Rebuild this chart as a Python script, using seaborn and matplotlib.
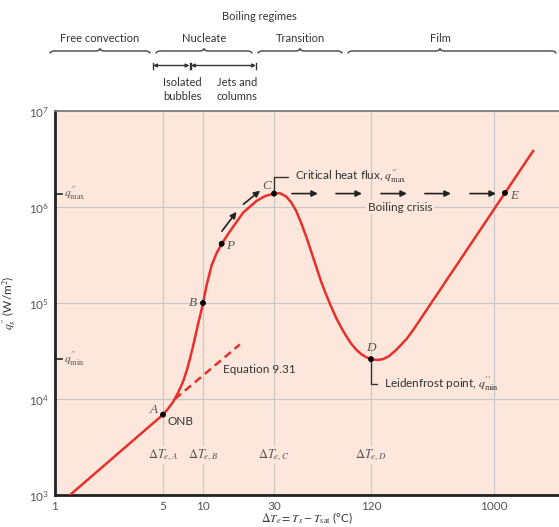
import numpy as np
import pandas as pd
import seaborn as sns
import matplotlib.pyplot as plt
from matplotlib.path import Path
from matplotlib.patches import PathPatch

# boiling curve (excess temperature in C, heat flux in W/m2)
delta_t = [1.25, 5.0, 5.45, 5.95, 6.48, 7.07, 7.58, 7.98, 8.41, 8.85, 9.25, 9.66, 10.0,
           10.59, 11.44, 12.36, 13.36, 15.19, 18.66, 22.96, 26.11, 30.0,
           32.7, 35.6, 38.2, 41.1, 44.1, 47.4, 50.9, 54.7, 58.7, 63.1, 67.8, 72.8,
           78.2, 84.0, 90.2, 96.9, 104.1, 111.8, 120.0,
           133.1, 147.6, 163.7, 181.5, 201.2, 223.3, 247.5, 1961.0]
q_flux = [1.0e3, 6.87e3, 7.9e3, 9.3e3, 1.16e4, 1.51e4, 2.02e4, 2.64e4, 3.53e4, 4.83e4,
          6.31e4, 8.04e4, 1.0e5,
          1.55e5, 2.48e5, 3.32e5, 4.14e5, 5.6e5, 8.79e5, 1.16e6, 1.30e6, 1.38e6,
          1.39e6, 1.29e6, 1.13e6, 9.18e5, 6.92e5, 4.98e5, 3.49e5, 2.42e5, 1.69e5,
          1.23e5, 9.19e4, 7.04e4, 5.59e4, 4.55e4, 3.79e4, 3.28e4, 2.94e4, 2.73e4, 2.6e4,
          2.55e4, 2.6e4, 2.8e4, 3.16e4, 3.66e4, 4.28e4, 5.2e4, 3.83e6]

# labelled points
pt_names = ['A', 'B', 'P', 'C', 'D', 'E']
pt_dt = [5.0, 10.0, 13.36, 30.0, 120.0, 1208.0]
pt_q = [6.87e3, 1.0e5, 4.14e5, 1.38e6, 2.6e4, 1.40e6]

# Equation 9.31 (dashed extension of free convection)
eq_dt = [6.15, 17.7]
eq_q = [1.0e4, 3.7e4]

q_max = 1.38e6
q_min = 2.6e4

# arrows along the nucleate branch
nuc_arrows = [((13.4, 5.6e5), (16.8, 8.9e5)), ((18.7, 1.07e6), (24.2, 1.48e6))]
# boiling crisis arrows
crisis_from = [38.8, 72.8, 142.5, 304, 661]
crisis_to = [56.2, 105.5, 223, 476, 1035]

x_ticks = [1, 5, 10, 30, 120, 1000]
x_tick_labels = ['1', '5', '10', '30', '120', '1000']
y_ticks = [1e3, 1e4, 1e5, 1e6, 1e7]
y_tick_labels = [r'$\mathregular{10^{%d}}$' % k for k in range(3, 8)]

dt_marks = [5, 10, 30, 120]
dt_mark_labels = [r'$\Delta T_{e,A}$', r'$\Delta T_{e,B}$', r'$\Delta T_{e,C}$', r'$\Delta T_{e,D}$']

# schematic (non uniform) excess temperature axis
LOG_KNOTS = [-1, 0, np.log10(5), 1, np.log10(30), np.log10(120), 3, 5]
PX_KNOTS = [-154.5, 0, 108, 148, 219, 316, 439, 439 + 2 * 133.6]


def fwd(x):
    x = np.asarray(x, dtype=float)
    return np.interp(np.log10(np.clip(x, 1e-30, None)), LOG_KNOTS, PX_KNOTS)


def inv(p):
    p = np.asarray(p, dtype=float)
    return 10 ** np.interp(p, PX_KNOTS, LOG_KNOTS)


RED = '#e8302a'
BG = '#fde7dc'
GREY = '#555555'
DARK = '#333333'

plt.rcParams['font.family'] = ['Lato', 'DejaVu Sans']
plt.rcParams['mathtext.fontset'] = 'stix'

fig = plt.figure(figsize=(5.59, 5.27), dpi=100)
W, H = 559, 527
ax = fig.add_axes([55 / W, (H - 495) / H, 504 / W, 384 / H])
ax.set_facecolor(BG)

curve = pd.DataFrame({'dT': delta_t, 'q': q_flux})
sns.lineplot(data=curve, x='dT', y='q', ax=ax, color=RED, lw=1.8, sort=False,
             estimator=None, zorder=3)
eq = pd.DataFrame({'dT': eq_dt, 'q': eq_q})
sns.lineplot(data=eq, x='dT', y='q', ax=ax, color=RED, lw=1.8,
             estimator=None, zorder=3).lines[-1].set_dashes([3.2, 2])
pts = pd.DataFrame({'dT': pt_dt, 'q': pt_q, 'name': pt_names})
sns.scatterplot(data=pts, x='dT', y='q', ax=ax, color='black', s=18, zorder=5,
                edgecolor='none')

ax.set_xscale('function', functions=(fwd, inv))
ax.set_yscale('log')
ax.set_xlim(1, float(inv(504)))
ax.set_ylim(1e3, 1e7)
ax.set_xticks(x_ticks)
ax.set_xticklabels(x_tick_labels)
ax.set_yticks(y_ticks)
ax.set_yticklabels(y_tick_labels)
ax.minorticks_off()
ax.tick_params(length=0, labelsize=8.5, labelcolor=GREY, pad=4)
ax.grid(True, color='#c8c8c8', lw=0.9)
ax.set_axisbelow(True)

for side in ['left', 'bottom']:
    ax.spines[side].set_color('#222222')
    ax.spines[side].set_linewidth(2)
ax.spines['top'].set_color('#777777')
ax.spines['top'].set_linewidth(1.2)
ax.spines['right'].set_visible(False)

ax.set_xlabel(r'$\Delta T_e = T_s - T_{\mathrm{sat}}$ (°C)', fontsize=8.5, color=DARK)
ax.xaxis.set_label_coords(0.5, -0.04)
ax.set_ylabel(r"$q_s^{\prime\prime}$ (W/m$^2$)", fontsize=8.5, color=DARK)
ax.yaxis.set_label_coords(-0.073, 0.5)

# point letters
letter_off = {'A': (-9, 5), 'B': (-10, 0), 'P': (8, -2), 'C': (-7, 8), 'D': (0, 11), 'E': (9, -3)}
for n, x, y in zip(pt_names, pt_dt, pt_q):
    ax.annotate(n, (x, y), xytext=letter_off[n], textcoords='offset pixels',
                ha='center', va='center', fontsize=9.5, color=GREY,
                family='Liberation Serif', style='italic', zorder=6)

ax.annotate('ONB', (pt_dt[0], pt_q[0]), xytext=(5, -7), textcoords='offset pixels',
            ha='left', va='center', fontsize=8.5, color=DARK)
ax.text(13.6, 2.02e4, 'Equation 9.31', ha='left', va='center', fontsize=8.5, color=DARK)

ax.annotate(r"Critical heat flux, $q^{\prime\prime}_{\mathrm{max}}$", (30.0, q_max),
            xytext=(21, 17), textcoords='offset pixels', ha='left', va='center',
            fontsize=8.5, color=DARK,
            arrowprops=dict(arrowstyle='-', color=DARK, lw=1,
                            connectionstyle='angle,angleA=0,angleB=90,rad=0',
                            relpos=(0, 0.5), shrinkA=3, shrinkB=0))
ax.annotate(r"Leidenfrost point, $q^{\prime\prime}_{\mathrm{min}}$", (120.0, q_min),
            xytext=(13, -25), textcoords='offset pixels', ha='left', va='center',
            fontsize=8.5, color=DARK,
            arrowprops=dict(arrowstyle='-', color=DARK, lw=1,
                            connectionstyle='angle,angleA=0,angleB=90,rad=0',
                            relpos=(0, 0.5), shrinkA=3, shrinkB=0))

ax.text(198, 1.0e6, 'Boiling crisis', ha='center', va='center', fontsize=8.5, color=DARK,
        bbox=dict(boxstyle='square,pad=0.15', fc=BG, ec='none'), zorder=4)

for a, b in nuc_arrows:
    ax.annotate('', xy=b, xytext=a,
                arrowprops=dict(arrowstyle='-|>', color='#222222', lw=1.2,
                                mutation_scale=9, shrinkA=0, shrinkB=0), zorder=6)
for a, b in zip(crisis_from, crisis_to):
    ax.annotate('', xy=(b, q_max), xytext=(a, q_max),
                arrowprops=dict(arrowstyle='-|>', color='#222222', lw=1.2,
                                mutation_scale=9, shrinkA=0, shrinkB=0), zorder=6)

for x, lab in zip(dt_marks, dt_mark_labels):
    ax.text(x, 2.62e3, lab, ha='center', va='center', fontsize=9, color=GREY,
            bbox=dict(boxstyle='square,pad=0.1', fc=BG, ec='none'), zorder=4)

# q''max / q''min markers on the left axis
ytr = ax.get_yaxis_transform()
for val, lab in [(q_max, r"$q^{\prime\prime}_{\mathrm{max}}$"),
                 (q_min, r"$q^{\prime\prime}_{\mathrm{min}}$")]:
    ax.plot([0, 7 / 504], [val, val], color='#222222', lw=1.2, transform=ytr, clip_on=False)
    ax.text(9 / 504, val, lab, transform=ytr, ha='left', va='center', fontsize=8.5, color=GREY)

# regime annotations above the chart, in pixel space
top = fig.add_axes([0, 0, 1, 1], zorder=-1)
top.set_xlim(0, W)
top.set_ylim(H, 0)
top.axis('off')


def brace(x0, x1, xc, y, h=2.5, w=5):
    verts = [(x0, y + h), (x0, y), (x0 + w, y),
             (xc - w, y), (xc, y), (xc, y - h), (xc, y), (xc + w, y),
             (x1 - w, y), (x1, y), (x1, y + h)]
    codes = [Path.MOVETO, Path.CURVE3, Path.CURVE3,
             Path.LINETO, Path.CURVE3, Path.CURVE3, Path.CURVE3, Path.CURVE3,
             Path.LINETO, Path.CURVE3, Path.CURVE3]
    top.add_patch(PathPatch(Path(verts, codes), fill=False, lw=1, ec='#444444'))


regimes = ['Free convection', 'Nucleate', 'Transition', 'Film']
brace_spans = [(50, 150, 100), (156, 252, 204), (258, 342, 300), (348, 556, 440)]
for name, (x0, x1, xc) in zip(regimes, brace_spans):
    brace(x0, x1, xc, 51)
    top.text(xc, 39, name, ha='center', va='center', fontsize=8, color=DARK)
top.text(259, 17, 'Boiling regimes', ha='center', va='center', fontsize=8, color=DARK)

for x0, x1 in [(153, 189.5), (191, 256)]:
    top.annotate('', xy=(x1, 65.5), xytext=(x0, 65.5),
                 arrowprops=dict(arrowstyle='<|-|>', color=DARK, lw=1,
                                 mutation_scale=5, shrinkA=0, shrinkB=0))
    for xx in (x0, x1):
        top.plot([xx, xx], [62.5, 68.5], color=DARK, lw=1)
top.text(182, 82, 'Isolated', ha='center', va='center', fontsize=8, color=DARK)
top.text(182, 96, 'bubbles', ha='center', va='center', fontsize=8, color=DARK)
top.text(237, 82, 'Jets and', ha='center', va='center', fontsize=8, color=DARK)
top.text(237, 96, 'columns', ha='center', va='center', fontsize=8, color=DARK)

fig.savefig('out.png', dpi=100)
